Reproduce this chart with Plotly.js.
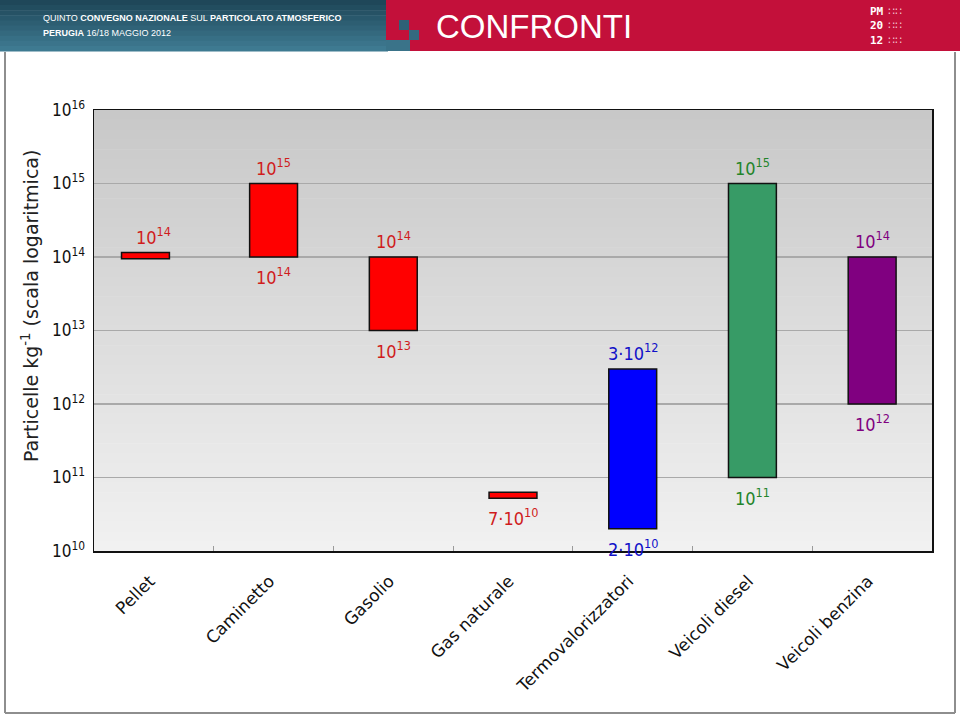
<!DOCTYPE html>
<html>
<head>
<meta charset="utf-8">
<script src="https://cdn.plot.ly/plotly-3.0.1.min.js"></script>
<style>
    html, body { margin: 0; padding: 0; background: #ffffff; }
    #chart { width: 960px; height: 716px; }
</style>
</head>
<body>
<div id="chart"></div>
<script>
// Sources compared (x categories)
const categories = ['Pellet', 'Caminetto', 'Gasolio', 'Gas naturale', 'Termovalorizzatori', 'Veicoli diesel', 'Veicoli benzina'];

// Range of particles per kg for each source (lower and upper end of each bar)
const lowValues = [9.5e13, 1e14, 1e13, 5.2e10, 2e10, 1e11, 1e12];
const highValues = [1.15e14, 1e15, 1e14, 6.3e10, 3e12, 1e15, 1e14];

// Labels written above / below each bar
const topLabels = ['10<sup>14</sup>', '10<sup>15</sup>', '10<sup>14</sup>', '', '3·10<sup>12</sup>', '10<sup>15</sup>', '10<sup>14</sup>'];
const bottomLabels = ['', '10<sup>14</sup>', '10<sup>13</sup>', '7·10<sup>10</sup>', '2·10<sup>10</sup>', '10<sup>11</sup>', '10<sup>12</sup>'];

// Log axis ticks
const yTickValues = [1e10, 1e11, 1e12, 1e13, 1e14, 1e15, 1e16];
const yTickLabels = ['10<sup>10</sup>', '10<sup>11</sup>', '10<sup>12</sup>', '10<sup>13</sup>', '10<sup>14</sup>', '10<sup>15</sup>', '10<sup>16</sup>'];

// Colours
const barColors = ['#ff0000', '#ff0000', '#ff0000', '#ff0000', '#0000ff', '#379b66', '#800080'];
const labelColors = ['#d01c1c', '#d01c1c', '#d01c1c', '#d01c1c', '#1010c8', '#23842a', '#800080'];

const FONT = "'DejaVu Sans Condensed', 'DejaVu Sans', sans-serif";
const WIDE_FONT = "'DejaVu Sans', sans-serif";
const HEAD_FONT = "'Liberation Sans', Arial, sans-serif";

// Plot area in pixels, used to place the slide decorations in paper units
const W = 960, H = 716;
const PLOT = { left: 94, right: 932, top: 110, bottom: 551 };
const px = x => (x - PLOT.left) / (PLOT.right - PLOT.left);
const py = y => (PLOT.bottom - y) / (PLOT.bottom - PLOT.top);

function rect(x0, y0, x1, y1, color, layer) {
    return {
        type: 'rect', xref: 'paper', yref: 'paper',
        x0: px(x0), x1: px(x1), y0: py(y1), y1: py(y0),
        fillcolor: color, line: { width: 0 }, layer: layer || 'above',
    };
}

function line(x0, y0, x1, y1, color, width) {
    return {
        type: 'line', xref: 'paper', yref: 'paper',
        x0: px(x0), x1: px(x1), y0: py(y0), y1: py(y1),
        line: { color: color, width: width },
    };
}

function mix(a, b, t) {
    const ca = a.match(/\w\w/g).map(h => parseInt(h, 16));
    const cb = b.match(/\w\w/g).map(h => parseInt(h, 16));
    return 'rgb(' + ca.map((v, i) => Math.round(v + (cb[i] - v) * t)).join(',') + ')';
}

const shapes = [];

// grey gradient behind the plot (drawn under the gridlines)
const STRIPES = 45;
for (let i = 0; i < STRIPES; i++) {
    const y0 = PLOT.top + (PLOT.bottom - PLOT.top) * i / STRIPES;
    const y1 = PLOT.top + (PLOT.bottom - PLOT.top) * (i + 1) / STRIPES + 0.5;
    shapes.push(rect(PLOT.left, y0, PLOT.right, y1, mix('c8c8c8', 'f1f1f1', i / (STRIPES - 1)), 'below'));
}

// header band: teal on the left, crimson on the right
for (let i = 0; i < 10; i++) {
    shapes.push(rect(0, i * 5.1, 388, (i + 1) * 5.1 + 0.5, mix('1f4759', '3e7a91', i / 9)));
}
shapes.push(rect(386, 0, 960, 51, '#c3103a'));
shapes.push(rect(386, 40, 410, 51, '#3a7389'));
shapes.push(rect(399, 20, 409, 30, '#2f6177'));
shapes.push(rect(409, 30, 419, 40, '#35697f'));

// slide frame
shapes.push(line(5, 52, 5, 713, '#8e8e8e', 2));
shapes.push(line(955, 52, 955, 713, '#8e8e8e', 2));
shapes.push(line(5, 713, 955, 713, '#8e8e8e', 2));

const annotations = [];

function headerText(x, y, text, size, family, color) {
    annotations.push({
        xref: 'paper', yref: 'paper', x: px(x), y: py(y),
        xanchor: 'left', yanchor: 'middle', showarrow: false,
        text: text, font: { family: family || HEAD_FONT, size: size, color: color || '#ffffff' },
    });
}

headerText(41, 18, 'QUINTO <b>CONVEGNO NAZIONALE</b> SUL <b>PARTICOLATO ATMOSFERICO</b>', 9);
headerText(41, 33, '<b>PERUGIA</b> 16/18 MAGGIO 2012', 9);
headerText(434, 26, 'CONFRONTI', 33);
// PM 2012 logo
headerText(868, 26, '<b>PM</b><br><b>20</b><br><b>12</b>', 11, "'DejaVu Sans Mono', monospace");
headerText(886, 26, '∷∷<br>∷∷<br>∷∷', 11, WIDE_FONT, '#f3c4cf');

// y axis title
annotations.push({
    xref: 'paper', yref: 'paper', x: px(30), y: py(306),
    xanchor: 'center', yanchor: 'middle', textangle: -90, showarrow: false,
    text: 'Particelle kg<sup>-1</sup> (scala logaritmica)',
    font: { family: WIDE_FONT, size: 19, color: '#222222' },
});

// value labels above and below each bar
categories.forEach((cat, i) => {
    if (topLabels[i]) {
        annotations.push({
            x: cat, y: Math.log10(highValues[i]), xref: 'x', yref: 'y',
            yanchor: 'bottom', yshift: 3, showarrow: false,
            text: topLabels[i], font: { family: FONT, size: 18, color: labelColors[i] },
        });
    }
    if (bottomLabels[i]) {
        annotations.push({
            x: cat, y: Math.log10(lowValues[i]), xref: 'x', yref: 'y',
            yanchor: 'top', yshift: -5, showarrow: false,
            text: bottomLabels[i], font: { family: FONT, size: 18, color: labelColors[i] },
        });
    }
});

const trace = {
    type: 'bar',
    x: categories,
    base: lowValues,
    y: highValues.map((h, i) => h - lowValues[i]),
    width: 0.4,
    offset: [-0.27, -0.2, -0.2, -0.2, -0.2, -0.2, -0.2],
    marker: {
        color: barColors,
        line: { color: '#111111', width: 1.5 },
    },
    hoverinfo: 'skip',
};

const layout = {
    width: W,
    height: H,
    margin: { l: PLOT.left, r: W - PLOT.right, t: PLOT.top, b: H - PLOT.bottom },
    paper_bgcolor: '#ffffff',
    plot_bgcolor: 'rgba(0,0,0,0)',
    showlegend: false,
    font: { family: FONT, color: '#111111' },
    xaxis: {
        type: 'category',
        tickson: 'boundaries',
        ticks: 'inside',
        ticklen: 5,
        tickcolor: '#9a9a9a',
        tickangle: -45,
        ticklabelstandoff: 12,
        ticklabelshift: -4,
        tickfont: { family: WIDE_FONT, size: 17, color: '#111111' },
        showgrid: false,
        showline: true,
        mirror: true,
        linecolor: '#111111',
        linewidth: 1.5,
        fixedrange: true,
    },
    yaxis: {
        type: 'log',
        range: [10, 16],
        tickvals: yTickValues,
        ticktext: yTickLabels,
        ticks: '',
        ticklabelstandoff: 4,
        tickfont: { family: FONT, size: 17, color: '#111111' },
        showgrid: true,
        gridcolor: '#a9a9a9',
        gridwidth: 1.5,
        showline: true,
        mirror: true,
        linecolor: '#111111',
        linewidth: 1.5,
        fixedrange: true,
    },
    shapes: shapes,
    annotations: annotations,
};

Plotly.newPlot('chart', [trace], layout, { displayModeBar: false, staticPlot: true });
</script>
</body>
</html>
